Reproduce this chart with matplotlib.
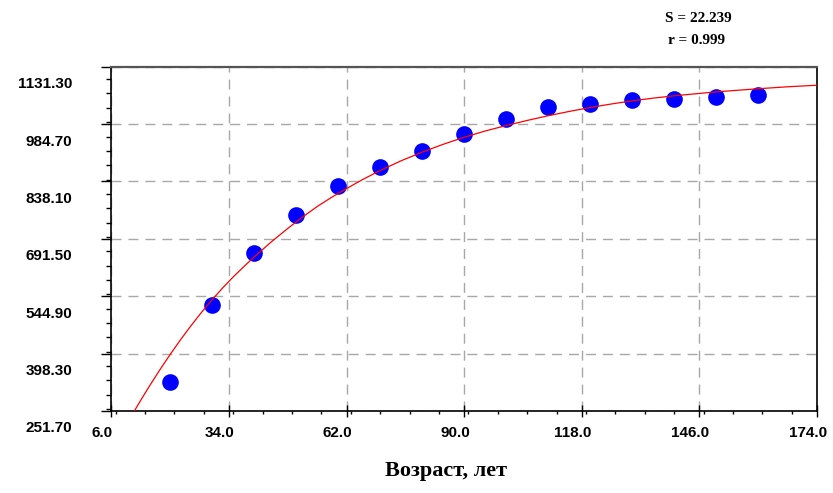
import matplotlib
matplotlib.use('Agg')
import matplotlib.pyplot as plt
from matplotlib.ticker import MultipleLocator, FixedLocator
from matplotlib.transforms import ScaledTranslation

# measured points (age, value)
age = [20, 30, 40, 50, 60, 70, 80, 90, 100, 110, 120, 130, 140, 150, 160]
value = [325, 522, 655, 752, 826, 876, 917, 959, 998, 1028, 1035, 1046, 1048, 1053, 1058]

# fitted curve
fit_x = [11.5, 13, 15, 17.5, 20, 22.5, 25, 27.5, 30, 32.5, 35, 37.5, 40, 44, 48, 51.5, 55,
         58.5, 62, 66, 70, 75, 80, 85, 90, 95, 100, 105, 110, 115, 120, 125, 130, 135, 140,
         145, 150, 155, 160, 167, 174]
fit_y = [252, 279, 314, 356, 396, 434, 470, 504, 536, 566, 594, 620, 645, 683, 718, 747, 774,
         798, 820, 844, 866, 891, 913, 933, 951, 967, 981, 994, 1006, 1017, 1027, 1036, 1044,
         1051, 1057, 1062, 1067, 1071, 1075, 1080, 1084]

x_ticks = [6.0, 34.0, 62.0, 90.0, 118.0, 146.0, 174.0]
y_ticks = [251.70, 398.30, 544.90, 691.50, 838.10, 984.70, 1131.30]

stats = ['S = 22.239', 'r = 0.999']

fig = plt.figure(figsize=(8.33, 4.93), dpi=100)
ax = fig.add_axes([111.3 / 833, 82 / 493, 705.7 / 833, 344.3 / 493])

ax.plot(age, value, 'o', color='#0000ff', markersize=12, markeredgewidth=0, zorder=3)
ax.plot(fit_x, fit_y, '-', color='#ff0000', lw=0.9, zorder=4)

ax.set_xlim(x_ticks[0], x_ticks[-1])
ax.set_ylim(y_ticks[0], y_ticks[-1])
ax.xaxis.set_major_locator(FixedLocator(x_ticks))
ax.yaxis.set_major_locator(FixedLocator(y_ticks))
ax.xaxis.set_minor_locator(MultipleLocator(7))
ax.yaxis.set_minor_locator(MultipleLocator((y_ticks[1] - y_ticks[0]) / 4))
ax.set_xticklabels(['%.1f' % v for v in x_ticks])
ax.set_yticklabels(['%.2f' % v for v in y_ticks])

ax.grid(True, which='major', color='#a8a8a8', lw=1.0, ls=(0, (7.2, 5)))

ax.tick_params(axis='y', which='major', direction='out', length=7.2, width=1, pad=21)
ax.tick_params(axis='y', which='minor', direction='out', length=3.6, width=1)
ax.tick_params(axis='x', which='major', direction='inout', length=8, width=1, pad=5.5)
ax.tick_params(axis='x', which='minor', direction='out', length=2.5, width=1)

for lab in ax.get_yticklabels():
    lab.set_fontfamily('Liberation Sans')
    lab.set_fontweight('bold')
    lab.set_fontsize(11)
    lab.set_transform(lab.get_transform() + ScaledTranslation(0, -0.16, fig.dpi_scale_trans))
for lab in ax.get_xticklabels():
    lab.set_fontfamily('Liberation Sans')
    lab.set_fontweight('bold')
    lab.set_fontsize(11)
    lab.set_transform(lab.get_transform() + ScaledTranslation(-0.09, -0.02, fig.dpi_scale_trans))

for s in ['left', 'bottom', 'right']:
    ax.spines[s].set_color('black')
    ax.spines[s].set_linewidth(1.2)
ax.spines['top'].set_color('#555555')
ax.spines['top'].set_linewidth(1.6)

fig.text(446 / 833, 1 - 471 / 493, 'Возраст, лет', ha='center', va='center',
         fontfamily='Liberation Serif', fontweight='bold', fontsize=16)
fig.text(698 / 833, 1 - 18 / 493, stats[0], ha='center', va='center',
         fontfamily='Liberation Serif', fontweight='bold', fontsize=11)
fig.text(696 / 833, 1 - 40 / 493, stats[1], ha='center', va='center',
         fontfamily='Liberation Serif', fontweight='bold', fontsize=11)

fig.savefig('out.png', dpi=100)
